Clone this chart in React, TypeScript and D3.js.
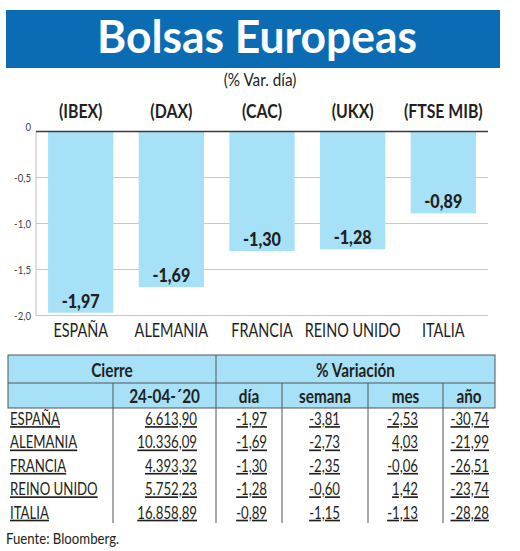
import * as d3 from 'd3'
import type { ReactNode } from 'react'

// chart data
const tickers = ["(IBEX)", "(DAX)", "(CAC)", "(UKX)", "(FTSE MIB)"]
const countries = ["ESPAÑA", "ALEMANIA", "FRANCIA", "REINO UNIDO", "ITALIA"]
const dayChange = [-1.97, -1.69, -1.30, -1.28, -0.89]
const yTicks = [0, -0.5, -1.0, -1.5, -2.0]

// table data
const closeValues = [6613.90, 10336.09, 4393.32, 5752.23, 16858.89]
const weekChange = [-3.81, -2.73, -2.35, -0.60, -1.15]
const monthChange = [-2.53, 4.03, -0.06, 1.42, -1.13]
const yearChange = [-30.74, -21.99, -26.51, -23.74, -28.28]
const closeDate = "24-04-´20"

const W = 520
const H = 551
const FONT = "Lato, 'Open Sans', sans-serif"
const TITLE_BLUE = "#0b6cb3"
const LIGHT_BLUE = "#a6e1f7"
const INK = "#231f20"
const SX = 0.8 // horizontal squeeze, mimics a condensed face

const es = d3.formatLocale({ decimal: ",", thousands: ".", grouping: [3], currency: ["", "€"], minus: "-" })
const fmt2 = es.format(".2f")
const fmtClose = es.format(",.2f")
const fmtTick = (d: number) => (d === 0 ? "0" : es.format(".1f")(d))

interface TProps {
  x: number
  y: number
  size: number
  anchor?: "start" | "middle" | "end"
  weight?: number | string
  sx?: number
  fill?: string
  underline?: boolean
  children: ReactNode
}

// condensed text
function T({ x, y, size, anchor = "start", weight = "normal", sx = SX, fill = INK, underline = false, children }: TProps) {
  return (
    <text transform={`translate(${x},${y}) scale(${sx},1)`} textAnchor={anchor} fontSize={size}
      fontWeight={weight} fill={fill} textDecoration={underline ? "underline" : undefined}>
      {children}
    </text>
  )
}

export default function App() {
  // bar chart scales
  const x = d3.scaleBand<string>()
    .domain(countries)
    .range([36, 488])
    .paddingInner(0.28)
    .paddingOuter(0.133)
  const y = d3.scaleLinear().domain([0, -2]).range([131.5, 315.5])
  const cx = (c: string) => x(c)! + x.bandwidth() / 2

  // table layout
  const cols = [8, 113, 216, 282, 368, 443, 495]
  const tableTop = 355
  const head1 = 383
  const head2 = 408
  const row = d3.scaleBand<string>().domain(countries).range([head2, 525])

  const rowValues = countries.map((c, i) => [
    fmtClose(closeValues[i]),
    fmt2(dayChange[i]),
    fmt2(weekChange[i]),
    fmt2(monthChange[i]),
    fmt2(yearChange[i]),
  ])
  const rightEdges = [197, 267, 340, 418, 489]
  const subHeads = [closeDate, "día", "semana", "mes", "año"]

  return (
    <svg width={W} height={H} style={{ position: "absolute", left: 0, top: 0, background: "#fff" }} fontFamily={FONT}>
      {/* title */}
      <rect x={6} y={10} width={494} height={58} fill={TITLE_BLUE} />
      <text x={257} y={53} textAnchor="middle" fill="#fff" fontSize={45} fontWeight="bold"
        textLength={320} lengthAdjust="spacingAndGlyphs">Bolsas Europeas</text>
      <T x={260} y={86} size={18} anchor="middle" sx={0.85}>(% Var. día)</T>

      {/* ticker labels */}
      {tickers.map((t, i) => (
        <T key={t} x={cx(countries[i])} y={118} size={18} anchor="middle" weight="bold" sx={0.88}>{t}</T>
      ))}

      {/* grid */}
      {yTicks.map(t => (
        <g key={t}>
          {t !== 0 && <line x1={36} x2={488} y1={y(t)} y2={y(t)} stroke="#c8c8c8" strokeWidth={1} />}
          <T x={31} y={y(t) + (t === 0 ? -1 : 4)} size={12} anchor="end" fill="#444">{fmtTick(t)}</T>
        </g>
      ))}
      <line x1={36} x2={36} y1={y(0)} y2={y(-2)} stroke="#bdbdbd" strokeWidth={1} />

      {/* bars */}
      {countries.map((c, i) => (
        <g key={c}>
          <rect x={x(c)} y={y(0)} width={x.bandwidth()} height={y(dayChange[i]) - y(0)} fill={LIGHT_BLUE} />
          <T x={cx(c)} y={y(dayChange[i]) - 5} size={19} anchor="middle" weight={900} sx={0.85}>{fmt2(dayChange[i])}</T>
          <T x={cx(c)} y={337} size={18.5} anchor="middle" sx={0.78}>{c}</T>
        </g>
      ))}
      <line x1={36} x2={488} y1={y(0)} y2={y(0)} stroke="#3a3a3a" strokeWidth={1.5} />

      {/* table header */}
      <rect x={cols[0]} y={tableTop} width={cols[6] - cols[0]} height={head2 - tableTop}
        fill={LIGHT_BLUE} stroke="#555" strokeWidth={1} />
      <line x1={cols[0]} x2={cols[6]} y1={head1} y2={head1} stroke="#555" strokeWidth={1} />
      <line x1={cols[2]} x2={cols[2]} y1={tableTop} y2={head1} stroke="#555" strokeWidth={1} />
      <T x={(cols[0] + cols[2]) / 2} y={377} size={18} anchor="middle" weight="bold" sx={0.85}>Cierre</T>
      <T x={(cols[2] + cols[6]) / 2} y={377} size={18} anchor="middle" weight="bold" sx={0.85}>% Variación</T>
      {subHeads.map((h, j) => (
        <T key={h} x={(cols[j + 1] + cols[j + 2]) / 2} y={403} size={18} anchor="middle" weight="bold" sx={0.85}>{h}</T>
      ))}

      {/* column dividers */}
      {cols.slice(1, 6).map(px => (
        <line key={px} x1={px} x2={px} y1={head1} y2={523} stroke="#555" strokeWidth={1} />
      ))}

      {/* table rows */}
      {countries.map((c, i) => (
        <g key={c}>
          <T x={10} y={row(c)! + 17} size={16.5} underline>{c}</T>
          {rowValues[i].map((v, j) => (
            <T key={j} x={rightEdges[j]} y={row(c)! + 17} size={16.5} anchor="end" underline>{v}</T>
          ))}
        </g>
      ))}

      <T x={6} y={544} size={15} sx={0.88}>Fuente: Bloomberg.</T>
    </svg>
  )
}
